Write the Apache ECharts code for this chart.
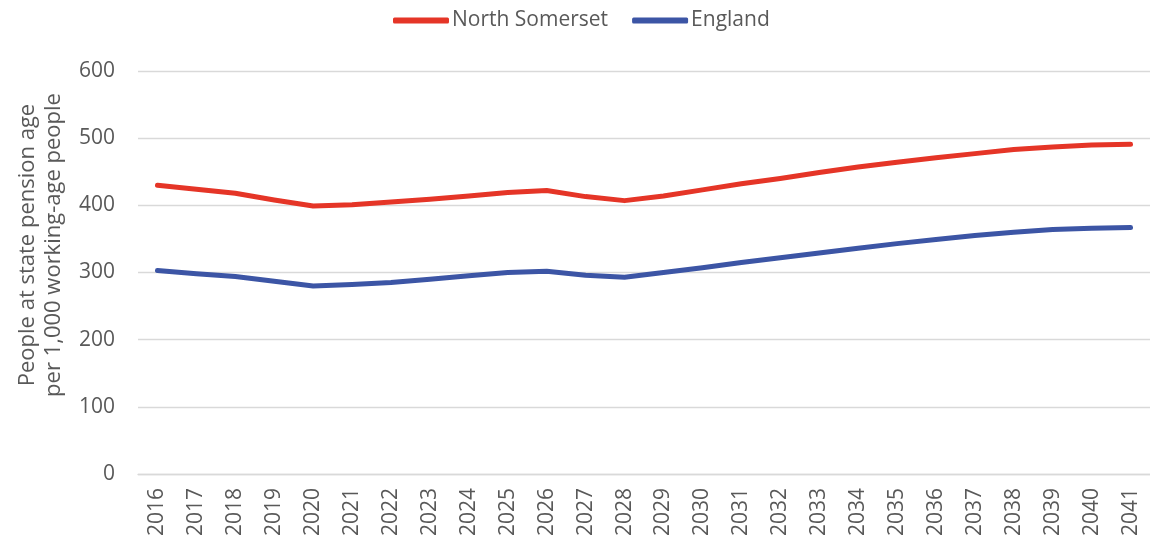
<!DOCTYPE html>
<html>
<head>
<meta charset="utf-8">
<title>Old-age dependency ratio projection</title>
<script src="https://cdn.jsdelivr.net/npm/echarts@6/dist/echarts.min.js"></script>
<style>
  html, body { margin: 0; padding: 0; background: #ffffff; }
  #chart { width: 1150px; height: 540px; }
</style>
</head>
<body>
<div id="chart"></div>
<script>
// Projection years
const years = ['2016','2017','2018','2019','2020','2021','2022','2023','2024','2025','2026','2027','2028',
  '2029','2030','2031','2032','2033','2034','2035','2036','2037','2038','2039','2040','2041'];

// People at state pension age per 1,000 working-age people
const northSomerset = [430, 424, 418, 408, 399, 401, 405, 409, 414, 419, 422, 413, 407,
  414, 423, 432, 440, 449, 457, 464, 471, 477, 483, 487, 490, 491];
const england = [303, 298, 294, 287, 280, 282, 285, 290, 295, 300, 302, 296, 293,
  300, 307, 315, 322, 329, 336, 343, 349, 355, 360, 364, 366, 367];

const yTicks = { min: 0, max: 600, step: 100 };
const axisTitle = ['People at state pension age', 'per 1,000 working-age people'];

const FONT = '"Open Sans", "Noto Sans", sans-serif';
const TEXT = '#595959';
const GRID = '#d9d9d9';

const chart = echarts.init(document.getElementById('chart'), null, { renderer: 'canvas' });

chart.setOption({
  animation: false,
  backgroundColor: '#ffffff',
  textStyle: { fontFamily: FONT, color: TEXT },
  legend: {
    top: 5,
    left: 388,
    itemWidth: 56,
    itemHeight: 6,
    itemGap: 24,
    icon: 'roundRect',
    textStyle: { fontFamily: FONT, fontSize: 21, color: TEXT, padding: [0, 0, 0, -2] },
    data: ['North Somerset', 'England']
  },
  grid: { left: 138, right: -8, top: 71, bottom: 66, containLabel: false },
  graphic: [{
    type: 'text',
    x: 41,
    y: 245,
    rotation: Math.PI / 2,
    style: {
      text: axisTitle.join('\n'),
      fontFamily: FONT,
      fontSize: 22,
      lineHeight: 26,
      fill: TEXT,
      align: 'center',
      verticalAlign: 'middle'
    }
  }],
  xAxis: {
    type: 'category',
    data: years,
    boundaryGap: true,
    axisLine: { show: true, lineStyle: { color: GRID, width: 1.3 } },
    axisTick: { show: false },
    axisLabel: {
      rotate: 90,
      interval: 0,
      margin: 14,
      fontFamily: FONT,
      fontSize: 21,
      color: TEXT
    },
    splitLine: { show: false }
  },
  yAxis: {
    type: 'value',
    min: yTicks.min,
    max: yTicks.max,
    interval: yTicks.step,
    axisLine: { show: false },
    axisTick: { show: false },
    axisLabel: { margin: 23, fontFamily: FONT, fontSize: 21, color: TEXT },
    splitLine: { show: true, lineStyle: { color: GRID, width: 1.3 } }
  },
  series: [
    {
      name: 'North Somerset',
      type: 'line',
      data: northSomerset,
      symbol: 'none',
      smooth: false,
      color: '#e53527',
      lineStyle: { width: 5, color: '#e53527', cap: 'round', join: 'round' },
      z: 3
    },
    {
      name: 'England',
      type: 'line',
      data: england,
      symbol: 'none',
      smooth: false,
      color: '#3c55a5',
      lineStyle: { width: 5, color: '#3c55a5', cap: 'round', join: 'round' },
      z: 2
    }
  ]
});
</script>
</body>
</html>
